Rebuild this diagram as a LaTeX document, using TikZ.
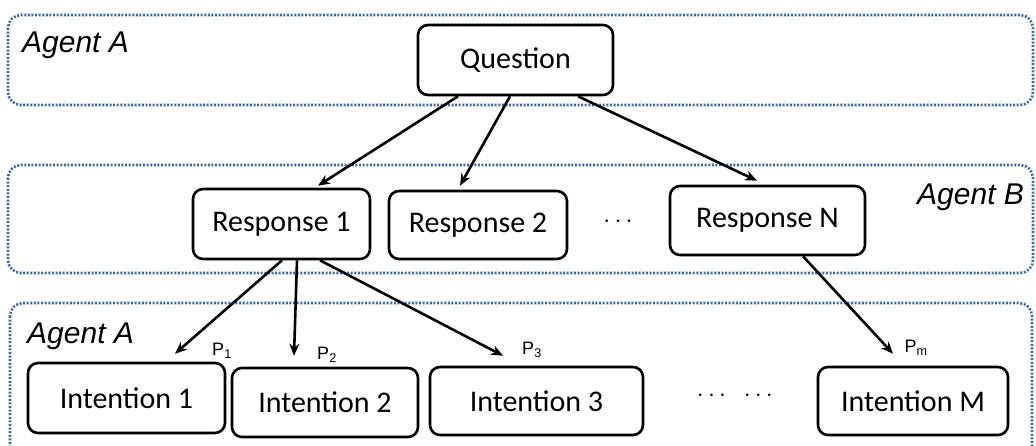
\documentclass[tikz,border=0pt]{standalone}
\usepackage{fontspec}
\setmainfont{Carlito}
\newfontfamily\arialfont{Liberation Sans}
\usetikzlibrary{
  arrows.meta,
  positioning,  % relative placement
}
\definecolor{agentblue}{RGB}{58,105,168}
\newcommand{\prob}[1]{{\arialfont\fontsize{18}{21}\selectfont P\textsubscript{#1}}}
\newcommand{\agent}[1]{{\arialfont\itshape\fontsize{30}{36}\selectfont Agent #1}}
\tikzset{
  semithick,
  >={Stealth[length=12pt,width=10pt]},
  my region/.style={
    draw=agentblue,
    line width=2.6pt,
    dash pattern=on 2pt off 1.6pt,
    rounded corners=13pt
  },
  my box/.style={
    draw,
    line width=2.6pt,
    rounded corners=10pt,
    inner sep=0pt,
    font=\fontsize{30}{35}\selectfont,
    rectangle
  },
  my arrow/.style={
    ->,
    line width=2.6pt
  },
  my dots/.style={
    font=\fontsize{26}{30}\selectfont
  }
}

\begin{document}
\begin{tikzpicture}[x=1pt,y=-1pt]
\useasboundingbox (0,0) rectangle (1036,446);
% Agent regions
\draw[my region] (8,15) rectangle (1033,105);
\draw[my region] (8,165) rectangle (1033,273);
\draw[my region] (10,303) rectangle (1032,470);
\node[anchor=base west,inner sep=0pt] (agentA1) at (22,53)  {\agent{A}};
\node[anchor=base west,inner sep=0pt] (agentB)  at (917,205) {\agent{B}};
\node[anchor=base west,inner sep=0pt] (agentA2) at (27,343) {\agent{A}};
% Question
\node[my box,minimum width=195,minimum height=70] (q) at (515.5,60) {Question};
% Responses
\node[my box,minimum width=177,minimum height=70] (r1) at (281.5,224) {Response 1};
\node[my box,minimum width=178,minimum height=68] (r2) at (478,225)   {Response 2};
\node[my dots] (rdots) at (618,222) {$\cdots$};
\node[my box,minimum width=195,minimum height=69] (rn) at (767.5,220.5) {Response N};
% Intentions
\node[my box,minimum width=197,minimum height=70] (i1) at (126.5,398) {Intention 1};
\node[my box,minimum width=186,minimum height=69] (i2) at (325,402.5) {Intention 2};
\node[my box,minimum width=213,minimum height=68] (i3) at (536.5,401) {Intention 3};
\node[my dots] (idots) at (735,396) {$\cdots\;\;\cdots$};
\node[my box,minimum width=190,minimum height=68] (im) at (913,401) {Intention M};
% Question to responses
\draw[my arrow] ([xshift=-57.5pt]q.south) -- ([xshift=36.5pt,yshift=2pt]r1.north);
\draw[my arrow] ([xshift=-5.5pt]q.south)  -- ([xshift=-18pt,yshift=4pt]r2.north);
\draw[my arrow] ([xshift=62.5pt]q.south)  -- ([xshift=-10.5pt,yshift=4pt]rn.north);
% Responses to intentions
\draw[my arrow] ([xshift=0.5pt]r1.south)  -- ([xshift=48.5pt,yshift=8pt]i1.north);
\draw[my arrow] ([xshift=15.5pt]r1.south) -- ([xshift=-31pt,yshift=11pt]i2.north);
\draw[my arrow] ([xshift=38.5pt]r1.south) -- ([xshift=-33.5pt,yshift=10pt]i3.north);
\draw[my arrow] ([xshift=35.5pt]rn.south) -- ([xshift=-20pt,yshift=12pt]im.north);
% Probabilities
\node[inner sep=0pt] (p1) at (222,351) {\prob{1}};
\node[inner sep=0pt] (p2) at (327,355) {\prob{2}};
\node[inner sep=0pt] (p3) at (532,350) {\prob{3}};
\node[inner sep=0pt] (pm) at (916,348) {\prob{m}};
\end{tikzpicture}
\end{document}
